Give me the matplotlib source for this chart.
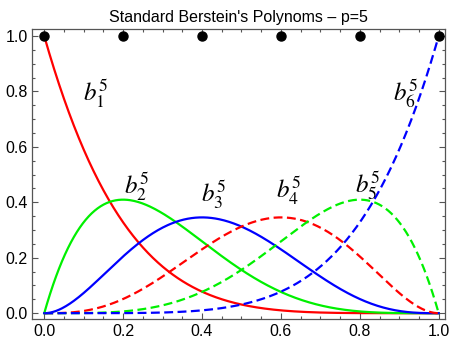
import numpy as np
import matplotlib
matplotlib.use("Agg")
from matplotlib import pyplot as plt
from matplotlib.ticker import MultipleLocator, FormatStrFormatter
from math import comb

plt.rcParams['font.family'] = ['Liberation Sans', 'DejaVu Sans']
plt.rcParams['mathtext.fontset'] = 'stix'

# degree and knot abscissas of the Bernstein basis
degree = 5
nodes = [0.0, 0.2, 0.4, 0.6, 0.8, 1.0]
node_heights = [1.0, 1.0, 1.0, 1.0, 1.0, 1.0]
colors = ['#ff0000', '#00f000', '#0000ff', '#ff0000', '#00f000', '#0000ff']
styles = ['-', '-', '-', '--', '--', '--']
label_x = [0.13, 0.235, 0.43, 0.62, 0.82, 0.915]
label_y = [0.79, 0.46, 0.43, 0.44, 0.46, 0.79]

t = np.linspace(0, 1, 400)

fig, ax = plt.subplots(figsize=(4.5, 3.42), dpi=100)
fig.subplots_adjust(left=0.072, right=0.988, bottom=0.068, top=0.915)

for i in range(degree + 1):
    b = comb(degree, i) * t**i * (1 - t)**(degree - i)
    ax.plot(t, b, color=colors[i], linestyle=styles[i], lw=1.6,
            dashes=(4, 2) if styles[i] == '--' else (None, None))
    ax.text(label_x[i], label_y[i], r'$b_{%d}^{%d}$' % (i + 1, degree),
            fontsize=18, ha='center', va='center')

ax.plot(nodes, node_heights, 'o', color='black', ms=6.5, clip_on=False, zorder=5)

ax.set_xlim(-0.03, 1.015)
ax.set_ylim(-0.02, 1.025)
ax.xaxis.set_major_locator(MultipleLocator(0.2))
ax.yaxis.set_major_locator(MultipleLocator(0.2))
ax.xaxis.set_minor_locator(MultipleLocator(0.05))
ax.yaxis.set_minor_locator(MultipleLocator(0.05))
ax.xaxis.set_major_formatter(FormatStrFormatter('%.1f'))
ax.yaxis.set_major_formatter(FormatStrFormatter('%.1f'))
ax.tick_params(which='both', direction='in', top=True, right=True,
               color='#555555', labelsize=11.5, width=0.8)
ax.tick_params(which='major', length=4)
ax.tick_params(which='minor', length=2)
for s in ax.spines.values():
    s.set_color('#555555')
    s.set_linewidth(0.9)

ax.set_title("Standard Berstein's Polynoms \u2013 p=5", fontsize=11.5, pad=5)

fig.savefig('out.png', dpi=100)
